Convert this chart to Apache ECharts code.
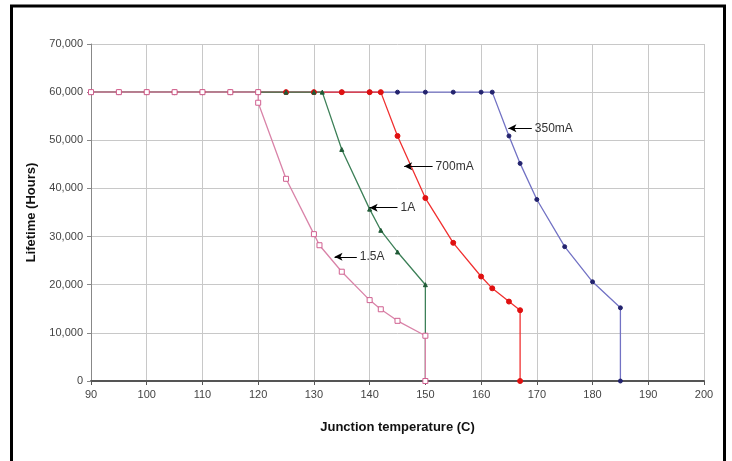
<!DOCTYPE html>
<html><head><meta charset="utf-8">
<script src="https://cdn.jsdelivr.net/npm/echarts@6/dist/echarts.min.js"></script>
<style>html,body{margin:0;padding:0;background:#fff}#c{width:732px;height:461px}</style>
</head><body><div id="c"></div>
<script>
// Junction temperature (C) and lifetime (hours) per drive current
const temps350 = [90,95,100,105,110,115,120,125,130,135,140,145,150,155,160,162,165,167,170,175,180,185,185];
const life350  = [60000,60000,60000,60000,60000,60000,60000,60000,60000,60000,60000,60000,60000,60000,60000,60000,50900,45200,37700,27900,20600,15200,0];
const temps700 = [90,95,100,105,110,115,120,125,130,135,140,142,145,150,155,160,162,165,167,167];
const life700  = [60000,60000,60000,60000,60000,60000,60000,60000,60000,60000,60000,60000,50900,38000,28700,21700,19250,16500,14700,0];
const temps1A  = [90,95,100,105,110,115,120,125,130,131.5,135,140,142,145,150,150];
const life1A   = [60000,60000,60000,60000,60000,60000,60000,60000,60000,60000,48100,35700,31300,26800,20000,0];
const temps15A = [90,95,100,105,110,115,120,120,125,130,131,135,140,142,145,150,150];
const life15A  = [60000,60000,60000,60000,60000,60000,60000,57800,42000,30500,28200,22700,16800,14900,12500,9400,0];
const xTicks = {min:90, max:200, step:10};
const yTicks = {min:0, max:70000, step:10000};
// annotation arrows: [label, arrow head x, y, tail x]
const notes350 = ['350mA', 164.9, 52500, 169.1];
const notes700 = ['700mA', 146.2, 44600, 151.3];
const notes1A  = ['1A', 140.0, 36000, 145.0];
const notes15A = ['1.5A', 133.7, 25800, 137.7];

const pair = (xs, ys) => xs.map((x,i)=>[x, ys[i]]);
function arrow(n){
  return {
    silent:true, symbol:['arrow','none'], symbolSize:[6,8],
    lineStyle:{color:'#000', width:1, type:'solid'},
    label:{show:true, position:'end', formatter:n[0], color:'#333', fontSize:12, fontFamily:'Liberation Sans, Arial', distance:3},
    data:[[{coord:[n[1],n[2]]},{coord:[n[3],n[2]]}]]
  };
}
function ser(name, xs, ys, line, mk, sym, size, fill, ml){
  return {
    name, type:'line', data:pair(xs,ys), symbol:sym, symbolSize:size,
    lineStyle:{color:line, width:1.3}, itemStyle:{color:fill, borderColor:mk, borderWidth:1},
    animation:false, markLine:arrow(ml)
  };
}
const chart = echarts.init(document.getElementById('c'), null, {renderer:'canvas'});
chart.setOption({
  backgroundColor:'#fff',
  animation:false,
  grid:{left:91, right:28, top:44, bottom:80},
  xAxis:{type:'value', min:xTicks.min, max:xTicks.max, interval:xTicks.step,
    name:'Junction temperature (C)', nameLocation:'middle', nameGap:40,
    nameTextStyle:{fontWeight:'bold', fontSize:13, color:'#111', fontFamily:'Liberation Sans, Arial'},
    axisLine:{show:true, lineStyle:{color:'#555', width:2}},
    axisTick:{show:true, length:4, lineStyle:{color:'#555'}},
    axisLabel:{color:'#444', fontSize:11, margin:8, fontFamily:'Liberation Sans, Arial'},
    splitLine:{show:true, lineStyle:{color:'#c8c8c8', width:1}}},
  yAxis:{type:'value', min:yTicks.min, max:yTicks.max, interval:yTicks.step,
    name:'Lifetime (Hours)', nameLocation:'middle', nameGap:53,
    nameTextStyle:{fontWeight:'bold', fontSize:13, color:'#111', fontFamily:'Liberation Sans, Arial'},
    axisLine:{show:true, lineStyle:{color:'#888', width:1}},
    axisTick:{show:true, length:4, lineStyle:{color:'#888'}},
    axisLabel:{color:'#444', fontSize:11, margin:8, fontFamily:'Liberation Sans, Arial',
      formatter:v=>v.toLocaleString('en-US')},
    splitLine:{show:true, lineStyle:{color:'#c8c8c8', width:1}}},
  graphic:[{type:'rect', silent:true, shape:{x:11.5, y:6, width:713, height:480},
    style:{fill:'none', stroke:'#000', lineWidth:3}}],
  series:[
    ser('350mA', temps350, life350, '#7272c4', '#23236e', 'circle', 4, '#23236e', notes350),
    ser('700mA', temps700, life700, '#f03030', '#e01010', 'circle', 5, '#e01010', notes700),
    ser('1A', temps1A, life1A, '#3d8058', '#1f5a36', 'triangle', 4, '#1f5a36', notes1A),
    ser('1.5A', temps15A, life15A, '#d983a8', '#d06090', 'rect', 5, '#fff', notes15A)
  ]
});
</script></body></html>
